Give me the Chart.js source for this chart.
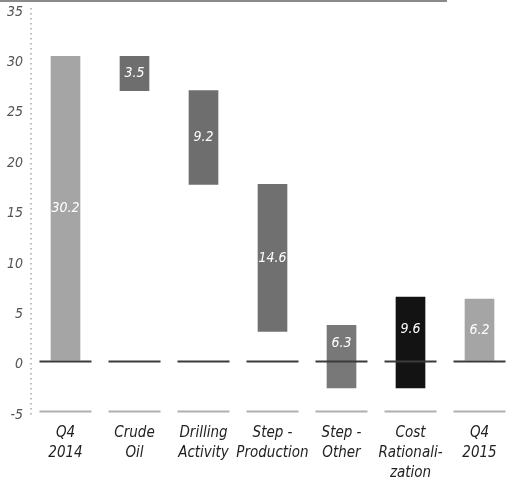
<!DOCTYPE html>
<html>
<head>
<meta charset="utf-8">
<script src="https://cdn.jsdelivr.net/npm/chart.js@4"></script>
<style>
    html, body { margin: 0; padding: 0; background: #fff; overflow: hidden; }
    #wrap { position: relative; width: 514px; height: 485px; }
    #topRule { position: absolute; left: 0; top: 0; width: 447px; height: 2px; background: #8a8a8a; }
</style>
</head>
<body>
<div id="wrap">
    <canvas id="waterfall"></canvas>
    <div id="topRule"></div>
</div>
<script>
const categories = [
    ['Q4', '2014'],
    ['Crude', 'Oil'],
    ['Drilling', 'Activity'],
    ['Step -', 'Production'],
    ['Step -', 'Other'],
    ['Cost', 'Rationali-', 'zation'],
    ['Q4', '2015']
];
const barLow = [0, 26.8, 17.5, 2.9, -2.7, -2.7, 0];
const barHigh = [30.2, 30.2, 26.8, 17.5, 3.5, 6.3, 6.1];
const valueLabels = ['30.2', '3.5', '9.2', '14.6', '6.3', '9.6', '6.2'];
const barColors = ['#a5a5a5', '#6e6e6e', '#6e6e6e', '#707070', '#787878', '#131313', '#a5a5a5'];
const yTicks = [-5, 0, 5, 10, 15, 20, 25, 30, 35];
const guideLines = [
    { value: 0, color: '#3a3a3a' },
    { value: -5, color: '#b0b0b0' }
];

const labelFont = '"Liberation Sans Narrow", "DejaVu Sans Condensed", sans-serif';

// short line segments under each category instead of full grid lines
const segmentLines = {
    id: 'segmentLines',
    beforeDatasetsDraw(chart) {
        // dotted value axis
        const { ctx, chartArea } = chart;
        ctx.save();
        ctx.strokeStyle = '#bdbdbd';
        ctx.lineWidth = 2;
        ctx.setLineDash([1.5, 3.5]);
        ctx.beginPath();
        ctx.moveTo(chartArea.left, chartArea.top);
        ctx.lineTo(chartArea.left, chartArea.bottom + 4);
        ctx.stroke();
        ctx.restore();
    },
    afterDatasetsDraw(chart) {
        const { ctx, scales: { x, y } } = chart;
        ctx.save();
        ctx.lineWidth = 2;
        guideLines.forEach(g => {
            const py = Math.round(y.getPixelForValue(g.value)) + 0.5;
            ctx.strokeStyle = g.color;
            categories.forEach((_, i) => {
                const cx = x.getPixelForValue(i);
                ctx.beginPath();
                ctx.moveTo(cx - 26, py);
                ctx.lineTo(cx + 26, py);
                ctx.stroke();
            });
        });
        ctx.restore();
    }
};

const barValues = {
    id: 'barValues',
    afterDraw(chart) {
        const { ctx, scales: { y } } = chart;
        const meta = chart.getDatasetMeta(0);
        ctx.save();
        ctx.fillStyle = '#ffffff';
        ctx.font = 'italic 14px ' + labelFont;
        ctx.textAlign = 'center';
        ctx.textBaseline = 'middle';
        meta.data.forEach((bar, i) => {
            const mid = (Math.max(barLow[i], 0) + barHigh[i]) / 2;
            ctx.fillText(valueLabels[i], bar.x, y.getPixelForValue(mid));
        });
        ctx.restore();
    }
};

new Chart(document.getElementById('waterfall'), {
    type: 'bar',
    data: {
        labels: categories,
        datasets: [{
            data: barLow.map((lo, i) => [lo, barHigh[i]]),
            backgroundColor: barColors,
            borderWidth: 0,
            barThickness: 29
        }]
    },
    options: {
        responsive: true,
        maintainAspectRatio: false,
        animation: false,
        layout: { padding: { top: 8, right: 0, left: 0, bottom: 0 } },
        plugins: {
            legend: { display: false },
            tooltip: { enabled: false }
        },
        scales: {
            x: {
                grid: { display: false, drawTicks: false },
                border: { display: false },
                ticks: {
                    color: '#222',
                    padding: 12,
                    maxRotation: 0,
                    autoSkip: false,
                    font: { family: labelFont, size: 15, style: 'italic', lineHeight: 1.33 }
                },
                afterFit: (scale) => { scale.height = 74; }
            },
            y: {
                min: -5,
                max: 35,
                afterBuildTicks: (scale) => { scale.ticks = yTicks.map(v => ({ value: v })); },
                grid: { color: 'rgba(0,0,0,0)', drawTicks: false },
                border: { display: false },
                ticks: {
                    color: '#555',
                    padding: 8,
                    labelOffset: 4,
                    font: { family: labelFont, size: 14, style: 'italic' }
                },
                afterFit: (scale) => {
                    scale.width = 31;
                    scale.paddingTop = 0;
                    scale.paddingBottom = 0;
                }
            }
        }
    },
    plugins: [segmentLines, barValues]
});
</script>
</body>
</html>
